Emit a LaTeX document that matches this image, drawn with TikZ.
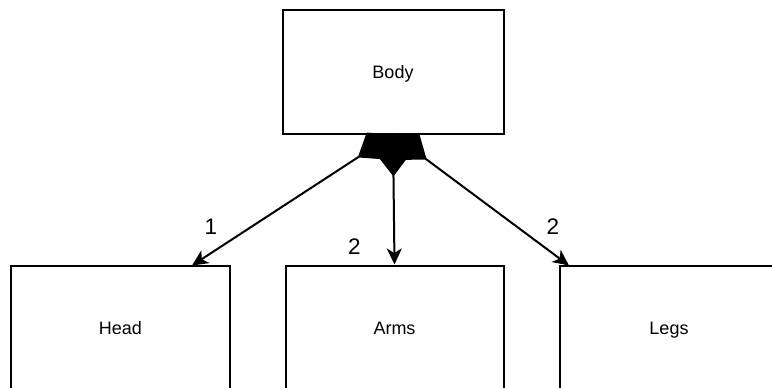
\documentclass[tikz,border=0pt]{standalone}
\usepackage{fontspec}
\setmainfont{Liberation Sans}
\usetikzlibrary{arrows.meta}
\begin{document}
\begin{tikzpicture}[x=1pt,y=-1pt,
  box/.style={draw, line width=2pt, inner sep=0pt, minimum height=124pt,
    text height=15pt, text depth=2pt,
    font=\fontsize{18}{22}\selectfont},
  lbl/.style={inner sep=0pt, font=\fontsize{22.5}{26}\selectfont},
  link/.style={line width=2pt,
    {Diamond[length=42pt,width=32pt]}-{Stealth[length=16pt,width=15pt,inset=4.5pt]}}]
\useasboundingbox (0,0) rectangle (772,388);
\clip (0,0) rectangle (772,388);
\node[box, minimum width=221pt] (body) at (393,71.5) {Body};
\node[box, minimum width=219pt] (head) at (120.5,327.5) {Head};
\node[box, minimum width=218pt] (arms) at (394.5,327.5) {Arms};
\node[box, minimum width=218pt] (legs) at (669,327.5) {Legs};
\coordinate (headend) at (192,265.5);
\coordinate (legsend) at (569,265.5);
\draw[link] (body.south) -- (headend);
\draw[link] (body.south) -- (arms.north);
\draw[link] (body.south) -- (legsend);
\node[lbl] (l1) at (211,226.5) {1};
\node[lbl] (l2) at (354.5,247) {2};
\node[lbl] (l3) at (553,226.5) {2};
\end{tikzpicture}
\end{document}
